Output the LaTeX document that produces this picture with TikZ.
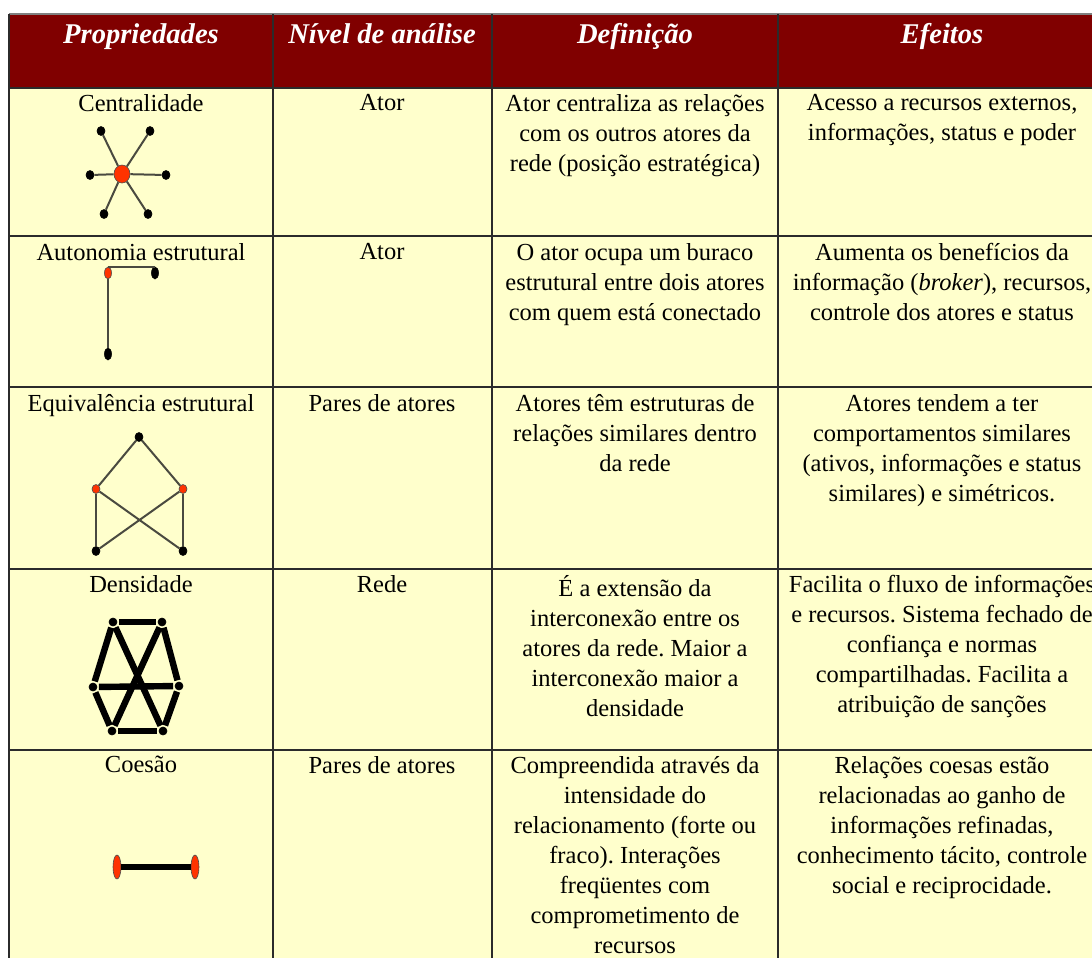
\documentclass[tikz,border=0pt]{standalone}
\usepackage{fontspec}
\setmainfont{Liberation Serif}
\usetikzlibrary{shapes.geometric}
\definecolor{hdr}{HTML}{800000}
\definecolor{cellbg}{HTML}{FFFFCC}
\definecolor{rule}{HTML}{2B2B2B}
\definecolor{redactor}{HTML}{FF3300}
\definecolor{tiegray}{HTML}{4A4A40}
\frenchspacing
\begin{document}
\begin{tikzpicture}[x=0.5pt, y=-0.5pt,
  head/.style={anchor=north, text=white, inner sep=0pt, font=\fontsize{14.3}{16}\selectfont\bfseries\itshape},
  cell/.style={anchor=north, align=center, inner sep=0pt, font=\fontsize{12.25}{15}\selectfont},
  actor/.style={ellipse, draw=black, fill=black, line width=0.3pt, inner sep=0pt, minimum width=4pt, minimum height=4.5pt},
  broker/.style={actor, fill=redactor, draw=black!70},
  tie/.style={draw=tiegray, line width=1pt},
  strongtie/.style={draw=black, line width=3.2pt},
  gridline/.style={draw=rule, line width=1pt}]
\useasboundingbox (0,0) rectangle (1092,958);
\clip (0,0) rectangle (1092,958);

% table background
\fill[cellbg] (9,88) rectangle (1110,990);
\fill[hdr] (9,14) rectangle (1110,88);
\draw[gray, line width=0.6pt] (9,14) -- (1110,14);

% grid lines
\foreach \y in {88,236,387,569,750}
  \draw[gridline] (9,\y) -- (1110,\y);
\foreach \x in {9,273,492,778}
  \draw[gridline] (\x,14) -- (\x,990);

% header row
\node[head] (hprop) at (141,23) {Propriedades};
\node[head] (hnivel) at (382,23) {Nível de análise};
\node[head] (hdef) at (635,23) {Definição};
\node[head] (hefe) at (942,23) {Efeitos};

% Centralidade
\node[cell] (prop1) at (141,94) {Centralidade};
\node[cell] (nivel1) at (382,94) {Ator};
\node[cell] (def1) at (635,94) {Ator centraliza as relações\\com os outros atores da\\rede (posição estratégica)};
\node[cell] (efe1) at (942,94) {Acesso a recursos externos,\\informações, status e poder};

\node[broker, minimum width=8pt, minimum height=9pt] (c0) at (122,174) {};
\foreach \n/\x/\y in {1/101/131, 2/150/131, 3/90/175, 4/166/175, 5/104/214, 6/148/214} {
  \node[actor] (c\n) at (\x,\y) {};
  \draw[tie] (c0) -- (c\n);
}

% Autonomia estrutural
\node[cell] (prop2) at (141,243) {Autonomia estrutural};
\node[cell] (nivel2) at (382,243) {Ator};
\node[cell] (def2) at (635,243) {O ator ocupa um buraco\\estrutural entre dois atores\\com quem está conectado};
\node[cell] (efe2) at (942,243) {Aumenta os benefícios da\\informação (\textit{broker}), recursos,\\controle dos atores e status};

\node[broker, minimum width=3.5pt, minimum height=6pt] (a0) at (108,273) {};
\node[actor, minimum width=3.5pt, minimum height=6pt] (a1) at (155,273) {};
\node[actor, minimum width=3.5pt, minimum height=6pt] (a2) at (108,354) {};
\draw[tie] (a0.north) -- (a1.north);
\draw[tie] (a0.south) -- (a2.north);

% Equivalencia estrutural
\node[cell] (prop3) at (141,394) {Equivalência estrutural};
\node[cell] (nivel3) at (382,394) {Pares de atores};
\node[cell] (def3) at (635,394) {Atores têm estruturas de\\relações similares dentro\\da rede};
\node[cell] (efe3) at (942,394) {Atores tendem a ter\\comportamentos similares\\(ativos, informações e status\\similares) e simétricos.};

\node[actor] (e0) at (139,437) {};
\node[broker] (e1) at (96,489) {};
\node[broker] (e2) at (183,489) {};
\node[actor] (e3) at (96,551) {};
\node[actor] (e4) at (183,551) {};
\draw[tie] (e0) -- (e1);
\draw[tie] (e0) -- (e2);
\draw[tie] (e1) -- (e4);
\draw[tie] (e2) -- (e3);
\draw[tie] (e1) -- (e3);
\draw[tie] (e2) -- (e4);

% Densidade
\node[cell] (prop4) at (141,575) {Densidade};
\node[cell] (nivel4) at (382,575) {Rede};
\node[cell] (def4) at (635,575) {É a extensão da\\interconexão entre os\\atores da rede. Maior a\\interconexão maior a\\densidade};
\node[cell] (efe4) at (942,575) {Facilita o fluxo de informações\\e recursos. Sistema fechado de\\confiança e normas\\compartilhadas. Facilita a\\atribuição de sanções};

\foreach \n/\x/\y in {1/113/622, 2/162/622, 3/179/686, 4/163/731, 5/112/731, 6/93/687}
  \node[actor, minimum width=4pt, minimum height=4pt] (d\n) at (\x,\y) {};
\foreach \a/\b in {1/2, 2/3, 3/4, 4/5, 5/6, 6/1, 6/3, 1/4, 2/5}
  \draw[strongtie, shorten <=0.8pt, shorten >=0.8pt] (d\a) -- (d\b);

% Coesao
\node[cell] (prop5) at (141,756) {Coesão};
\node[cell] (nivel5) at (382,756) {Pares de atores};
\node[cell] (def5) at (635,756) {Compreendida através da\\intensidade do\\relacionamento (forte ou\\fraco). Interações\\freqüentes com\\comprometimento de\\recursos};
\node[cell] (efe5) at (942,756) {Relações coesas estão\\relacionadas ao ganho de\\informações refinadas,\\conhecimento tácito, controle\\social e reciprocidade.};

\node[broker, minimum width=4pt, minimum height=12pt] (k1) at (117,867) {};
\node[broker, minimum width=4pt, minimum height=12pt] (k2) at (195,867) {};
\draw[strongtie] (k1) -- (k2);

\end{tikzpicture}
\end{document}
